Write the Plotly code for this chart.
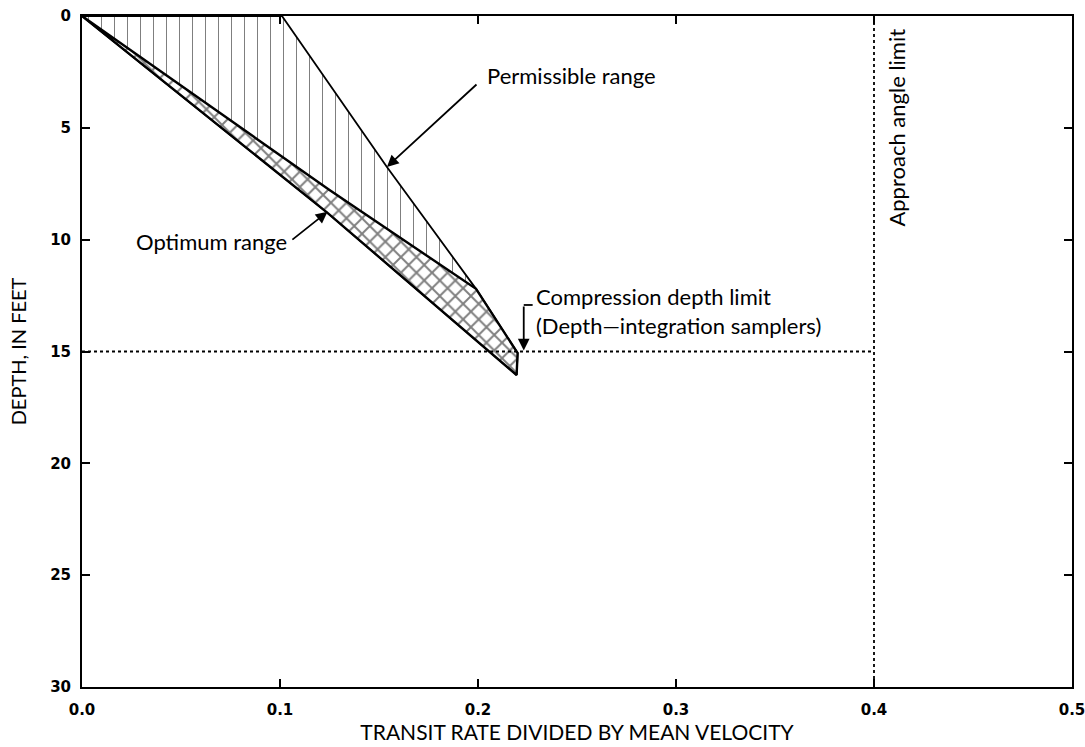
import plotly.graph_objects as go

# Boundary of the optimum range (lower/left edge), depth in feet
lower_x = [0.0, 0.124, 0.2195]
lower_y = [0.0, 8.8, 16.05]

# Upper edge of the optimum range
opt_upper_x = [0.0, 0.125, 0.199]
opt_upper_y = [0.0, 7.78, 12.2]

# Right edge of the permissible range
perm_right_x = [0.101, 0.154, 0.199, 0.220]
perm_right_y = [0.0, 6.75, 12.2, 15.07]

# Limits
compression_depth = 15.0
approach_limit = 0.4

x_ticks = [0.0, 0.1, 0.2, 0.3, 0.4, 0.5]
x_tick_text = ["0.0", "0.1", "0.2", "0.3", "0.4", "0.5"]
y_ticks = [0, 5, 10, 15, 20, 25, 30]

TXT = "Lato, 'Noto Sans', sans-serif"
NUM = "'DejaVu Sans', sans-serif"
ANN = dict(family=TXT, size=22, color="black")

# permissible polygon: top edge, right edge, tip, back along lower edge
perm_x = [0.0] + perm_right_x + [lower_x[-1]] + lower_x[::-1][1:]
perm_y = [0.0] + perm_right_y + [lower_y[-1]] + lower_y[::-1][1:]

# optimum polygon: upper edge, shared right edge, tip, lower edge
opt_x = opt_upper_x + perm_right_x[3:] + lower_x[::-1]
opt_y = opt_upper_y + perm_right_y[3:] + lower_y[::-1]

fig = go.Figure()

fig.add_trace(go.Scatter(
    x=perm_x, y=perm_y, mode="lines", fill="toself",
    fillcolor="white",
    fillpattern=dict(shape="|", fgcolor="black", bgcolor="white", size=13, solidity=0.08),
    line=dict(color="black", width=1.8), hoverinfo="skip", showlegend=False,
))
fig.add_trace(go.Scatter(
    x=opt_x, y=opt_y, mode="lines", fill="toself",
    fillcolor="white",
    fillpattern=dict(shape="x", fgcolor="black", bgcolor="white", size=11, solidity=0.32),
    line=dict(color="black", width=2.4), hoverinfo="skip", showlegend=False,
))

# dotted limit lines
fig.add_trace(go.Scatter(
    x=[0.0, approach_limit], y=[compression_depth, compression_depth], mode="lines",
    line=dict(color="black", width=1.8, dash="dot"), hoverinfo="skip", showlegend=False,
))
fig.add_trace(go.Scatter(
    x=[approach_limit, approach_limit], y=[0, 30], mode="lines",
    line=dict(color="black", width=1.8, dash="dot"), hoverinfo="skip", showlegend=False,
))

annotations = [
    dict(x=0.154, y=6.75, ax=0.2, ay=3.0, axref="x", ayref="y",
         text="", showarrow=True, arrowhead=2, arrowsize=1.3, arrowwidth=1.8, arrowcolor="black"),
    dict(x=0.2035, y=2.65, text="Permissible range", showarrow=False, xanchor="left", yanchor="middle",
         font=ANN),
    dict(x=0.124, y=8.75, ax=0.1055, ay=10.05, axref="x", ayref="y",
         text="", showarrow=True, arrowhead=2, arrowsize=1.3, arrowwidth=1.8, arrowcolor="black"),
    dict(x=0.1045, y=10.1, text="Optimum range", showarrow=False, xanchor="right", yanchor="middle",
         font=ANN),
    dict(x=0.2231, y=14.95, ax=0.2231, ay=12.92, axref="x", ayref="y",
         text="", showarrow=True, arrowhead=2, arrowsize=1.3, arrowwidth=1.8, arrowcolor="black"),
    dict(x=0.2285, y=13.2, text="Compression depth limit<br>(Depth\u2014integration samplers)",
         showarrow=False, xanchor="left", yanchor="middle", align="left", font=ANN),
    dict(x=0.4115, y=5.0, text="Approach angle limit", textangle=-90, showarrow=False,
         xanchor="center", yanchor="middle", font=ANN),
]

fig.add_shape(type="line", x0=0.2231, y0=12.92, x1=0.2276, y1=12.92,
              line=dict(color="black", width=1.8))

fig.update_layout(
    width=1085, height=747,
    margin=dict(l=82, r=13, t=16, b=60),
    paper_bgcolor="white", plot_bgcolor="white",
    annotations=annotations,
    xaxis=dict(
        range=[0, 0.5], tickvals=x_ticks, ticktext=x_tick_text, automargin=False,
        ticks="inside", ticklen=8, tickwidth=1.5, tickcolor="black",
        showline=True, linecolor="black", linewidth=2, mirror="ticks",
        showgrid=False, zeroline=False, ticklabelstandoff=8, ticklabeloverflow="allow",
        tickfont=dict(family=NUM, size=15, color="black", weight="bold"),
        title=dict(text="TRANSIT RATE DIVIDED BY MEAN VELOCITY",
                   font=dict(family=TXT, size=21, color="black"), standoff=4),
    ),
    yaxis=dict(
        range=[30, 0], tickvals=y_ticks, automargin=False,
        ticks="inside", ticklen=8, tickwidth=1.5, tickcolor="black",
        showline=True, linecolor="black", linewidth=2, mirror="ticks",
        showgrid=False, zeroline=False, ticklabelstandoff=6,
        tickfont=dict(family=NUM, size=15, color="black", weight="bold"),
        title=dict(text="DEPTH, IN FEET", font=dict(family=TXT, size=20, color="black"), standoff=18),
    ),
)

fig.write_html("out.html")
